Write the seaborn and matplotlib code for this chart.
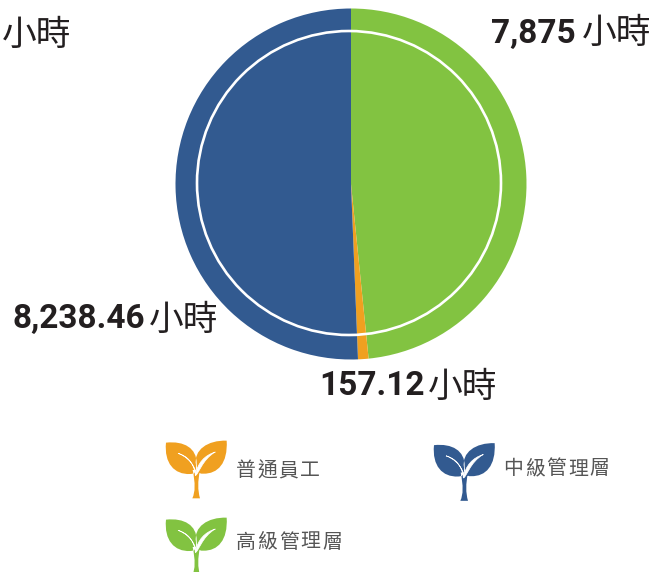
"""Pie of training hours by staff level, with leaf legend icons."""

import matplotlib
matplotlib.use("Agg")
import matplotlib.pyplot as plt
from matplotlib.patches import Circle, PathPatch
from matplotlib.path import Path
import seaborn as sns

CJK = ["Noto Sans CJK TC", "DejaVu Sans"]
W, H = 662, 572

# ── data ──
categories = ["高級管理層", "普通員工", "中級管理層"]
hours = [7875, 157.12, 8238.46]
hour_labels = ["7,875", "157.12", "8,238.46"]
unit = "小時"
legend_labels = ["普通員工", "中級管理層", "高級管理層"]

palette = sns.color_palette(["#82C341", "#F0A020", "#325A90"])
legend_colors = [palette[1], palette[2], palette[0]]

sns.set_theme(style="white")
plt.rcParams["font.family"] = CJK

fig = plt.figure(figsize=(W / 100, H / 100), dpi=100)

# ── pie ──
cx, cy, r = 351, 184, 175.5
ax = fig.add_axes([(cx - r) / W, 1 - (cy + r) / H, 2 * r / W, 2 * r / H])
ax.pie(hours, colors=palette, startangle=90, counterclock=False, radius=1,
       wedgeprops={"linewidth": 0})
ax.set_xlim(-1, 1)
ax.set_ylim(-1, 1)
# the white ring sits a little left of the pie centre in the original
ax.add_patch(Circle((-2 / r, 1 / r), 152 / r, fill=False, ec="white", lw=1.9))

# ── overlay in pixel coordinates ──
ov = fig.add_axes([0, 0, 1, 1])
ov.set_xlim(0, W)
ov.set_ylim(H, 0)
ov.axis("off")
ov.patch.set_alpha(0)


def leaf_path():
    M, C, L, Z = Path.MOVETO, Path.CURVE4, Path.LINETO, Path.CLOSEPOLY
    pts = [
        # left leaf
        (0, 8), (55, 2), (92, 25), (92, 70),
        (93, 90), (90, 102), (72, 102),
        (25, 104), (-6, 70), (0, 8),
        # right leaf
        (182, 2), (125, 0), (82, 30), (90, 75),
        (92, 92), (95, 102), (112, 101),
        (155, 102), (186, 70), (182, 2),
    ]
    codes = [M] + [C] * 9 + [M] + [C] * 9
    stem = [(80, 90), (88, 130), (88, 155), (79, 175), (102, 175),
            (95, 150), (95, 125), (102, 90), (80, 90)]
    stem_codes = [M, C, C, C, L, C, C, C, Z]
    return Path(pts + stem, codes + stem_codes)


def vein_paths():
    M, C, Z = Path.MOVETO, Path.CURVE4, Path.CLOSEPOLY
    left = [(36, 40), (64, 48), (84, 68), (88, 106),
            (97, 106), (82, 56), (36, 40), (36, 40)]
    right = [(148, 36), (116, 46), (95, 68), (88, 106),
             (97, 106), (108, 58), (148, 36), (148, 36)]
    codes = [M, C, C, C, C, C, C, Z]
    return [Path(left, codes), Path(right, codes)]


def draw_leaf(x0, y0, color):
    # icon shapes are laid out at 3x, scaled down to pixels here
    to_px = matplotlib.transforms.Affine2D().scale(1 / 3).translate(x0, y0) + ov.transData
    ov.add_patch(PathPatch(leaf_path(), fc=color, ec="none", transform=to_px))
    for vein in vein_paths():
        ov.add_patch(PathPatch(vein, fc="white", ec="white", lw=0.5, transform=to_px))


def spaced(x, y, text, step, size, color="#555555"):
    for i, ch in enumerate(text):
        ov.text(x + i * step, y, ch, family=CJK, fontsize=size, color=color,
                ha="left", va="center")


draw_leaf(166, 440, legend_colors[0])
spaced(236, 471, legend_labels[0], 21.3, 14.3)
draw_leaf(434, 442.5, legend_colors[1])
spaced(503, 469, legend_labels[1], 21.7, 14.3)
draw_leaf(166, 517, legend_colors[2])
spaced(235.5, 542, legend_labels[2], 21.7, 14.3)

# ── value labels ──
dark = "#231F20"
ov.text(2, 35, unit, family=CJK, fontsize=25, color=dark, ha="left", va="center")

label_pos = [(491, 34, 582, 33), (319, 386, 428, 387), (12, 319, 149, 320)]
for text, (x, y, ux, uy) in zip(hour_labels, label_pos):
    ov.text(x, y, text, family=["Roboto", "DejaVu Sans"], fontsize=24, weight="bold",
            color=dark, ha="left", va="center")
    ov.text(ux, uy, unit, family=CJK, fontsize=25, color=dark, ha="left", va="center")

fig.savefig("out.png", dpi=100)
